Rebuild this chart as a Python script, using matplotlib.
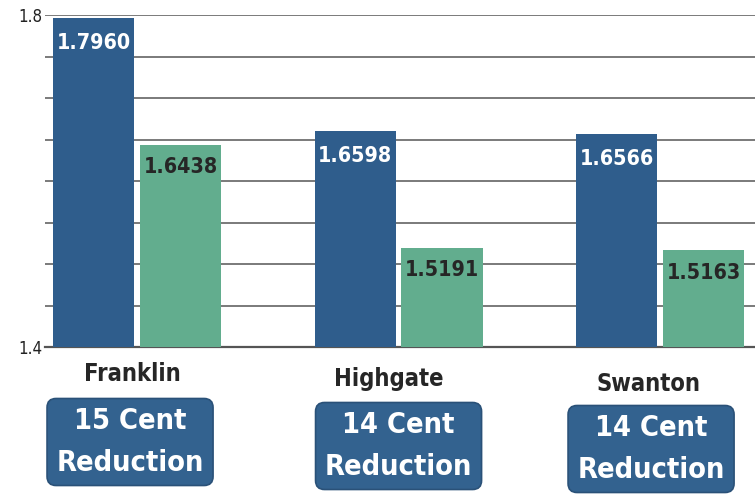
import os
import matplotlib
matplotlib.use("Agg")
import matplotlib.pyplot as plt
from matplotlib.patches import FancyBboxPatch
from matplotlib import font_manager as fm
import numpy as np

# ---- data ----
towns = ["Franklin", "Highgate", "Swanton"]
before = [1.7960, 1.6598, 1.6566]
after = [1.6438, 1.5191, 1.5163]
reductions = ["15 Cent", "14 Cent", "14 Cent"]
ytick_values = [1.40, 1.45, 1.50, 1.55, 1.60, 1.65, 1.70, 1.75, 1.80]
ytick_labels = ["1.4", "", "", "", "", "", "", "", "1.8"]

# ---- style ----
BLUE = "#2f5d8c"
GREEN = "#62ad8e"
BOX = "#33628f"
W, H = 755, 494


def find_font(names):
    files = {os.path.basename(f.fname).lower(): f.fname for f in fm.fontManager.ttflist}
    for n in names:
        if n.lower() in files:
            return files[n.lower()]
    return None


bold_file = find_font(["LiberationSansNarrow-Bold.ttf", "DejaVuSansCondensed-Bold.ttf",
                       "LiberationSans-Bold.ttf"])
reg_file = find_font(["LiberationSansNarrow-Regular.ttf", "DejaVuSansCondensed.ttf",
                      "LiberationSans-Regular.ttf"])


def fp(bold, size):
    f = bold_file if bold else reg_file
    if f:
        return fm.FontProperties(fname=f, size=size)
    return fm.FontProperties(family="DejaVu Sans", weight="bold" if bold else "normal", size=size)


fig = plt.figure(figsize=(W / 100, H / 100), dpi=100, facecolor="white")


def fx(px):
    return px / W


def fy(py):
    return 1 - py / H


ax = fig.add_axes([fx(45), fy(347), fx(755) - fx(45), fy(15) - fy(347)])
ax.set_facecolor("white")

x = np.arange(len(towns))
bw = 0.31
off = 0.166
b1 = ax.bar(x - off, before, bw, color=BLUE, zorder=3)
b2 = ax.bar(x + off, after, bw, color=GREEN, zorder=3)

ax.set_ylim(1.4, 1.8)
ax.set_xlim(-0.352, 2.363)
ax.set_yticks(ytick_values)
ax.set_yticklabels(ytick_labels, color="#222222")
ax.tick_params(axis="y", length=0, pad=2)
ax.set_xticks([])
ax.grid(axis="y", color="#7a7a7a", linewidth=1.4, zorder=0)
for s in ["top", "right", "left"]:
    ax.spines[s].set_visible(False)
ax.spines["bottom"].set_color("#555555")
ax.spines["bottom"].set_linewidth(1.6)

# groups of texts sharing one size: [texts], index of reference text, target width px, max size
groups = []

yl = list(ax.get_yticklabels())
for lab in yl:
    lab.set_fontproperties(fp(False, 13))
groups.append((yl, 0, 24, 15))

vals = []
for rect, v in zip(b1, before):
    vals.append(ax.annotate(f"{v:.4f}", (rect.get_x() + rect.get_width() / 2, v),
                            xytext=(0, -18), textcoords="offset points",
                            ha="center", va="center", fontproperties=fp(True, 19),
                            color="white", zorder=4))
for rect, v in zip(b2, after):
    vals.append(ax.annotate(f"{v:.4f}", (rect.get_x() + rect.get_width() / 2, v),
                            xytext=(0, -16), textcoords="offset points",
                            ha="center", va="center", fontproperties=fp(True, 19),
                            color="#262626", zorder=4))
groups.append((vals, 0, 74, 20))

# overlay in pixel coordinates for the labels and boxes
ov = fig.add_axes([0, 0, 1, 1], zorder=5)
ov.set_xlim(0, W)
ov.set_ylim(H, 0)
ov.axis("off")
ov.patch.set_alpha(0)

fig.canvas.draw()
label_dx = [-5, -10, -12]
label_y = [374, 379, 384]
box_dx = [-7, 0, -9]
box_cy = [442, 446, 449]
bwid, bhei = 166, 87
names, line1, line2 = [], [], []
for i, (town, red) in enumerate(zip(towns, reductions)):
    cx = ax.transData.transform((x[i], 1.4))[0]
    names.append(ov.text(cx + label_dx[i], label_y[i], town, ha="center", va="center",
                         fontproperties=fp(True, 20), color="#262626"))
    bx = cx + box_dx[i]
    by = box_cy[i]
    pad = 9
    patch = FancyBboxPatch((bx - bwid / 2 + pad, by - bhei / 2 + pad),
                           bwid - 2 * pad, bhei - 2 * pad,
                           boxstyle=f"round,pad={pad},rounding_size=9",
                           facecolor=BOX, edgecolor="#2a5178", linewidth=1.2)
    ov.add_patch(patch)
    line1.append(ov.text(bx, by - 21, red, ha="center", va="center",
                         fontproperties=fp(True, 24), color="white"))
    line2.append(ov.text(bx, by + 21, "Reduction", ha="center", va="center",
                         fontproperties=fp(True, 24), color="white"))
groups.append((names, 0, 97, 22))
groups.append((line2, 0, 148, 27))

# scale font sizes so that reference widths match
renderer = fig.canvas.get_renderer()
for texts, ref, target, maxsize in groups:
    w = texts[ref].get_window_extent(renderer).width
    if w > 0:
        new = min(maxsize, texts[ref].get_fontsize() * target / w)
        for t in texts:
            t.set_fontsize(new)
for t, t2 in zip(line1, line2):
    t.set_fontsize(t2.get_fontsize())

fig.savefig("out.png", dpi=100, facecolor="white")
